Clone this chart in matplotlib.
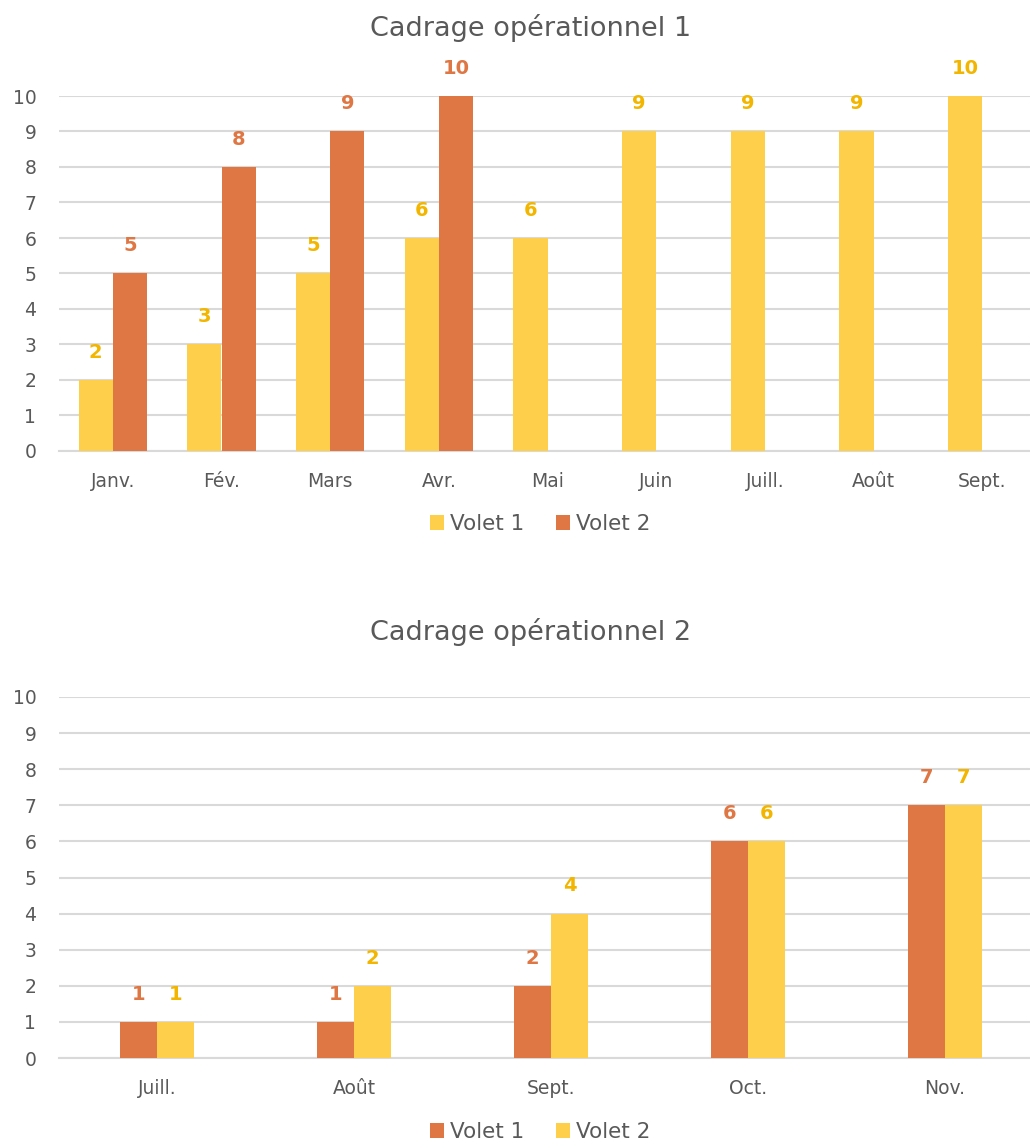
import numpy as np
import matplotlib.pyplot as plt

plt.rcParams['font.family'] = ['DejaVu Sans']

# data
mois_1 = ["Janv.", "Fév.", "Mars", "Avr.", "Mai", "Juin", "Juill.", "Août", "Sept."]
volet1_a = [2, 3, 5, 6, 6, 9, 9, 9, 10]
volet2_a = [5, 8, 9, 10, None, None, None, None, None]

mois_2 = ["Juill.", "Août", "Sept.", "Oct.", "Nov."]
volet1_b = [1, 1, 2, 6, 7]
volet2_b = [1, 2, 4, 6, 7]

yellow = "#FDCF4A"
orange = "#DF7744"
yellow_txt = "#F2B600"
gray = "#595959"
grid = "#D9D9D9"


def draw(ax, cats, s1, s2, c1, c2, t1, t2, width, title, ty, leg_y):
    x = np.arange(len(cats))
    for vals, off, col, tcol, name in [(s1, -width / 2, c1, t1, "Volet 1"),
                                       (s2, width / 2, c2, t2, "Volet 2")]:
        xs = [xi + off for xi, v in zip(x, vals) if v is not None]
        vs = [v for v in vals if v is not None]
        bars = ax.bar(xs, vs, width, color=col, label=name, zorder=3)
        for b, v in zip(bars, vs):
            ax.annotate(str(v), (b.get_x() + b.get_width() / 2, v),
                        xytext=(0, 20), textcoords="offset points",
                        ha="center", va="center", fontsize=14,
                        fontweight="bold", color=tcol, annotation_clip=False)
    ax.set_xlim(-0.5, len(cats) - 0.5)
    ax.set_ylim(0, 10)
    ax.set_yticks(range(0, 11))
    ax.set_xticks(x)
    ax.set_xticklabels(cats)
    ax.tick_params(length=0, labelsize=13.5, colors=gray)
    ax.tick_params(axis="y", pad=16)
    ax.tick_params(axis="x", pad=15)
    ax.grid(axis="y", color=grid, linewidth=1.5, zorder=0)
    for s in ["top", "right", "left"]:
        ax.spines[s].set_visible(False)
    ax.spines["bottom"].set_color(grid)
    ax.spines["bottom"].set_linewidth(1.5)
    ax.spines["bottom"].set_zorder(0)
    leg = fig.legend(*ax.get_legend_handles_labels(), loc="center",
                     bbox_to_anchor=(540 / 1030, leg_y), ncol=2,
                     frameon=False, fontsize=15.5, handlelength=0.65,
                     handleheight=0.65, handletextpad=0.3, columnspacing=1.45)
    for t in leg.get_texts():
        t.set_color(gray)
    fig.text(531 / 1030, ty, title, ha="center", va="center",
             fontsize=19.5, color=gray)


fig = plt.figure(figsize=(10.30, 11.44), dpi=100)
ax1 = fig.add_axes([58.5 / 1030, 1 - 451 / 1144, 978 / 1030, 355 / 1144])
ax2 = fig.add_axes([58.5 / 1030, 1 - 1058 / 1144, 985 / 1030, 361 / 1144])

draw(ax1, mois_1, volet1_a, volet2_a, yellow, orange, yellow_txt, orange,
     0.315, "Cadrage opérationnel 1", 1 - 28 / 1144, 1 - 524 / 1144)
draw(ax2, mois_2, volet1_b, volet2_b, orange, yellow, orange, yellow_txt,
     0.188, "Cadrage opérationnel 2", 1 - 632 / 1144, 1 - 1132 / 1144)

fig.savefig("out.png", dpi=100)
